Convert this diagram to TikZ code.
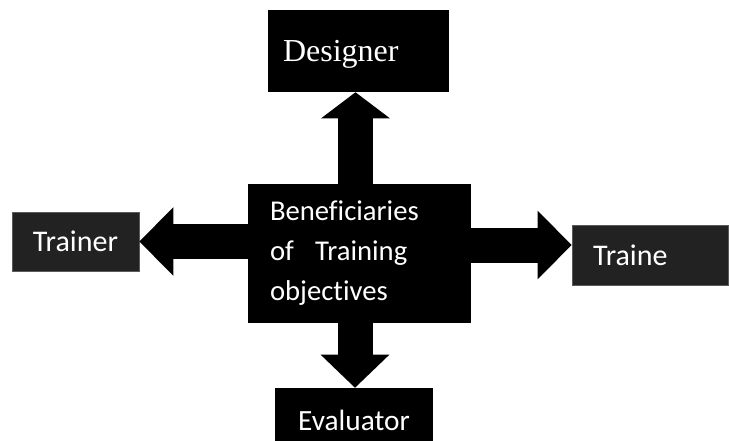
\documentclass[tikz,border=0pt]{standalone}
\usepackage{fontspec}
\setmainfont[Ligatures={NoCommon,NoContextual}]{Carlito}
\newfontfamily\designerfont{Liberation Serif}
\usetikzlibrary{arrows.meta}

\definecolor{boxgrey}{HTML}{222222}
\definecolor{edgegrey}{HTML}{5A5A5A}

\tikzset{
	blackbox/.style={fill=black, text=white, inner ysep=0pt},
	greybox/.style={fill=boxgrey, draw=edgegrey, line width=0.6pt, text=white, inner ysep=0pt, font=\fontsize{22.5}{30}\selectfont},
	boxtext/.style={font=\fontsize{21.5}{30}\selectfont},
	blockarrow/.style={line width=26.25pt, draw=black,
		-{Triangle[length=#1, width=51.5pt, line width=0pt 0 0]}},
	blockarrow/.default=25.5pt
}

\begin{document}
\begin{tikzpicture}[x=0.75pt,y=-0.75pt]
						\useasboundingbox (0,0) rectangle (729,440);
						
						\node (designer) at (358.5,51) [blackbox, text width=113.25pt, inner xsep=11.25pt, minimum height=61.5pt, text depth=0pt, align=left, font=\designerfont\fontsize{24}{28}\selectfont] {Designer};
						\node (centre) at (359.5,253.5) [blackbox, boxtext, text width=134.25pt, inner xsep=16.5pt, minimum height=104.25pt, align=left] {Beneficiaries\\of\hspace{16pt}Training\\objectives};
						\node (trainer) at (75.5,241.5) [greybox, minimum width=95.25pt, minimum height=44.25pt] {Trainer};
						\node (traine) at (650,255) [greybox, text width=85.5pt, inner xsep=15.75pt, minimum height=45pt, align=left] {Traine};
						\node (evaluator) at (354,420) [blackbox, boxtext, font=\fontsize{22}{30}\selectfont, minimum width=118.5pt, minimum height=48pt] {Evaluator};
						
						\coordinate (utip) at ([xshift=-2.25pt]designer.south);
						\coordinate (dtip) at ([xshift=0.75pt]evaluator.north);
						\coordinate (rtip) at ([yshift=7.5pt]traine.west);
						
						\draw[blockarrow=19.5pt] (utip |- centre.north) -- (utip);
						\draw[blockarrow] (centre.west |- trainer.east) -- (trainer.east);
						\draw[blockarrow] (rtip -| centre.east) -- (rtip);
						\draw[blockarrow=24.75pt] (dtip |- centre.south) -- (dtip);
					\end{tikzpicture}
\end{document}
